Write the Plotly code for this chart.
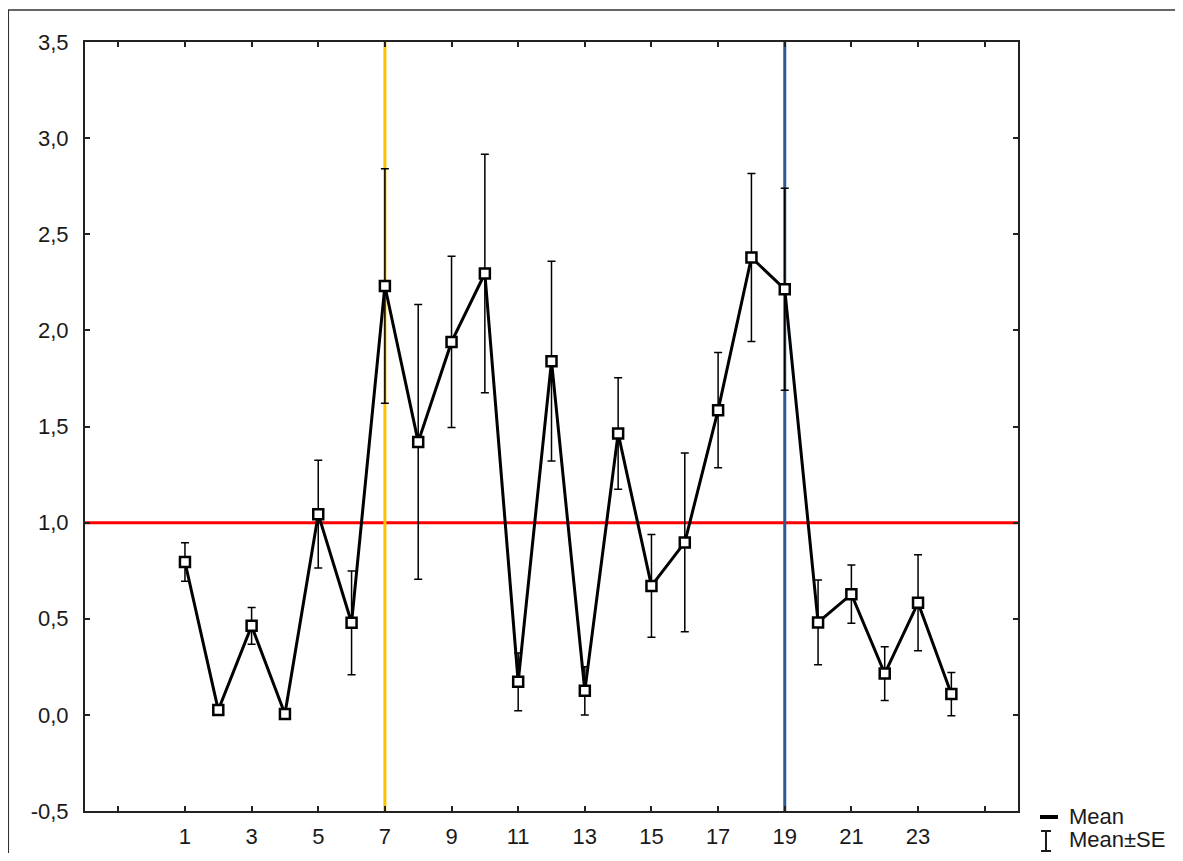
import plotly.graph_objects as go

# Group number and mean with its standard error
groups = list(range(1, 25))
means = [0.795, 0.025, 0.463, 0.005, 1.044, 0.479, 2.231, 1.420, 1.940, 2.296, 0.172, 1.840,
         0.125, 1.464, 0.671, 0.897, 1.585, 2.379, 2.214, 0.481, 0.628, 0.215, 0.583, 0.108]
se = [0.100, 0.020, 0.095, 0.020, 0.280, 0.270, 0.610, 0.715, 0.445, 0.620, 0.150, 0.520,
      0.125, 0.290, 0.267, 0.465, 0.300, 0.437, 0.525, 0.220, 0.152, 0.140, 0.250, 0.112]

# Reference lines
ref_level = 1.0
mark_orange = 7
mark_blue = 19

# Axis ticks
x_ticks = list(range(-1, 26, 2))
x_labels = [str(v) if 1 <= v <= 23 else '' for v in x_ticks]
y_ticks = [-0.5, 0.0, 0.5, 1.0, 1.5, 2.0, 2.5, 3.0, 3.5]
y_labels = [f'{v:.1f}'.replace('.', ',') for v in y_ticks]

FONT = 'Arial, Liberation Sans, sans-serif'

fig = go.Figure()

fig.add_trace(go.Scatter(
    x=groups, y=means,
    mode='lines+markers',
    line=dict(color='black', width=3),
    marker=dict(symbol='square', size=10, color='white', line=dict(color='black', width=2.5)),
    error_y=dict(type='data', array=se, visible=True, color='black', thickness=1.5, width=4),
    showlegend=False,
))

fig.add_hline(y=ref_level, line=dict(color='#FF0000', width=3), layer='below')
fig.add_vline(x=mark_orange, line=dict(color='#FFC000', width=3), layer='below')
fig.add_vline(x=mark_blue, line=dict(color='#2E5A94', width=3), layer='below')

# outer frame of the graph window
fig.add_shape(type='rect', xref='paper', yref='paper', x0=-0.0822, x1=1.4, y0=-0.3, y1=1.0416,
              line=dict(color='#333333', width=1.5))

# legend drawn by hand (line symbol for Mean, I-beam for Mean±SE)
fig.add_shape(type='line', xref='paper', yref='paper', x0=1.0236, x1=1.0429, y0=-0.0078, y1=-0.0078,
              line=dict(color='black', width=4))
fig.add_shape(type='path', xref='paper', yref='paper',
              path='M 1.0247 -0.0260 L 1.0354 -0.0260 M 1.0300 -0.0260 L 1.0300 -0.0520 '
                   'M 1.0247 -0.0520 L 1.0354 -0.0520',
              line=dict(color='#1a1a1a', width=2))
fig.add_annotation(xref='paper', yref='paper', x=1.0525, y=-0.0078, text='Mean', showarrow=False,
                   xanchor='left', yanchor='middle', font=dict(family=FONT, size=22, color='#1a1a1a'))
fig.add_annotation(xref='paper', yref='paper', x=1.0525, y=-0.0377, text='Mean±SE', showarrow=False,
                   xanchor='left', yanchor='middle', font=dict(family=FONT, size=22, color='#1a1a1a'))

axis_common = dict(
    showgrid=False, zeroline=False, automargin=False,
    showline=True, linecolor='#222222', linewidth=2, mirror='ticks',
    ticks='inside', ticklen=5, tickwidth=2, tickcolor='#222222',
    tickfont=dict(family=FONT, size=22, color='#1a1a1a'),
)

fig.update_xaxes(range=[-2, 26], tickmode='array', tickvals=x_ticks, ticktext=x_labels,
                 ticklabelstandoff=5, **axis_common)
fig.update_yaxes(range=[-0.5, 3.5], tickmode='array', tickvals=y_ticks, ticktext=y_labels,
                 ticklabelstandoff=10, **axis_common)

# page body has an 8px margin, so the figure is sized to fit inside the window
fig.update_layout(
    width=1167, height=845,
    margin=dict(l=77, r=157, t=34, b=42),
    plot_bgcolor='white', paper_bgcolor='white',
)

fig.write_html('out.html')
